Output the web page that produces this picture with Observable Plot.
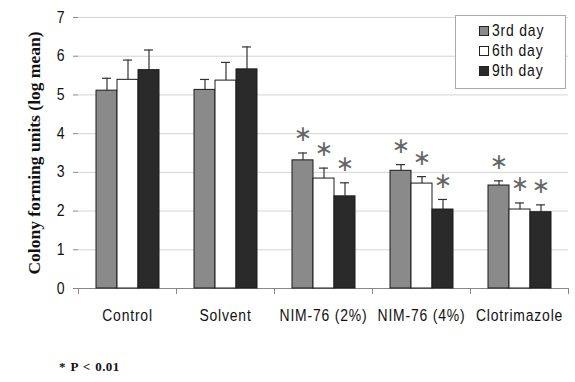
<!DOCTYPE html>
<html>
<head>
<meta charset="utf-8">
<script src="https://cdn.jsdelivr.net/npm/d3@7"></script>
<script src="https://cdn.jsdelivr.net/npm/@observablehq/plot@0.6"></script>
<style>
  body { margin: 0; background: #fff; }
  #wrap { position: relative; width: 575px; height: 382px; overflow: hidden; }
  #wrap svg { font-family: "Liberation Sans", Arial, sans-serif; }
  .legend { position: absolute; left: 455px; top: 15px; width: 111px; height: 74px; box-sizing: border-box;
    border: 1px solid #aaa; background: #fff; font-family: "Liberation Sans", Arial, sans-serif;
    font-size: 17px; letter-spacing: 1px; color: #111; padding-top: 5px; }
  .legend .row { display: flex; align-items: center; height: 20px; padding-left: 23px; white-space: nowrap; }
  .legend span.sw { display: inline-block; width: 8px; height: 8px; border: 1px solid #222; margin-right: 3px; flex: none; }
  .legend span.lab { display: inline-block; transform: scaleX(0.82); transform-origin: left center; }
  .foot { position: absolute; left: 59px; top: 359px; font: bold 13px "Liberation Serif", "DejaVu Serif", serif;
    letter-spacing: 0.4px; word-spacing: 1px; color: #111; }
</style>
</head>
<body>
<div id="wrap"></div>
<script>
const categories = ["Control", "Solvent", "NIM-76 (2%)", "NIM-76 (4%)", "Clotrimazole"];
const days = ["3rd day", "6th day", "9th day"];
const day3 = [5.11, 5.13, 3.31, 3.04, 2.66];
const day6 = [5.39, 5.37, 2.84, 2.71, 2.04];
const day9 = [5.64, 5.66, 2.38, 2.04, 1.97];
const err3 = [0.32, 0.27, 0.19, 0.16, 0.12];
const err6 = [0.51, 0.47, 0.27, 0.18, 0.17];
const err9 = [0.52, 0.58, 0.35, 0.26, 0.19];
const significant = [false, false, true, true, true];
const yTicks = [0, 1, 2, 3, 4, 5, 6, 7];
const dayColors = ["#8a8a8a", "#ffffff", "#2a2a2a"];

const series = [day3, day6, day9];
const errs = [err3, err6, err9];
const rows = [];
categories.forEach((c, i) => {
  days.forEach((d, j) => {
    rows.push({cat: c, day: d, value: series[j][i], top: series[j][i] + errs[j][i], sig: significant[i]});
  });
});

const chart = Plot.plot({
  width: 575,
  height: 340,
  marginLeft: 76,
  marginRight: 6,
  marginTop: 17,
  marginBottom: 52,
  style: {background: "transparent", fontSize: "15px"},
  fx: {domain: categories, padding: 0, label: null},
  x: {domain: days, paddingInner: 0, paddingOuter: 0.75, axis: null},
  y: {domain: [0, 7], ticks: yTicks, label: null, line: true},
  color: {domain: days, range: dayColors},
  marks: [
    Plot.gridY(yTicks, {stroke: "#d4d4d4", strokeOpacity: 1}),
    Plot.frame({anchor: "left", stroke: "#888", insetTop: 271, insetBottom: -5}),
    Plot.frame({anchor: "right", stroke: "#888", insetTop: 271, insetBottom: -5}),
    Plot.ruleY([0], {stroke: "#888"}),
    Plot.axisY(yTicks, {tickSize: 5, tickPadding: 9, stroke: "#888", fontSize: 16, fill: "#111",
      label: "Colony forming units (log mean)", labelAnchor: "center", labelOffset: 51, labelArrow: "none"}),
    Plot.axisFx({anchor: "bottom", tickSize: 0, tickPadding: 20, fontSize: 17, fill: "#111", label: null}),
    Plot.ruleX(rows, {fx: "cat", x: "day", y1: "value", y2: "top", stroke: "#333", strokeWidth: 1.2}),
    Plot.tickY(rows, {fx: "cat", x: "day", y: "top", stroke: "#333", strokeWidth: 1.2, insetLeft: 6, insetRight: 6}),
    Plot.barY(rows, {fx: "cat", x: "day", y: "value", fill: "day", stroke: "#1a1a1a", strokeWidth: 1}),
    Plot.text(rows.filter(d => d.sig), {fx: "cat", x: "day", y: "top", text: () => "\u2217", dy: -19,
      fontSize: 22, fill: "#666", fontFamily: "DejaVu Sans"})
  ]
});

const wrap = document.getElementById("wrap");
wrap.appendChild(chart);
// y-axis title style
chart.querySelectorAll('[aria-label="y-axis label"] text').forEach(t => {
  t.setAttribute("style", "font: bold 17.5px 'Liberation Serif', 'DejaVu Serif', serif; fill: #111;");
});
// narrow, letter-spaced tick labels (Arial Narrow look)
chart.querySelectorAll('[aria-label="fx-axis tick label"] text').forEach(t => {
  t.setAttribute("letter-spacing", "1px");
  t.setAttribute("transform", (t.getAttribute("transform") || "") + " scale(0.82,1)");
});
chart.querySelectorAll('[aria-label="y-axis tick label"] text').forEach(t => {
  t.setAttribute("transform", (t.getAttribute("transform") || "") + " scale(0.88,1)");
});

const legend = document.createElement("div");
legend.className = "legend";
days.forEach((d, j) => {
  const row = document.createElement("div");
  row.className = "row";
  const sw = document.createElement("span");
  sw.className = "sw";
  sw.style.background = dayColors[j];
  const lab = document.createElement("span");
  lab.className = "lab";
  lab.textContent = d;
  row.appendChild(sw);
  row.appendChild(lab);
  legend.appendChild(row);
});
wrap.appendChild(legend);

const foot = document.createElement("div");
foot.className = "foot";
foot.textContent = "* P < 0.01";
wrap.appendChild(foot);
</script>
</body>
</html>
